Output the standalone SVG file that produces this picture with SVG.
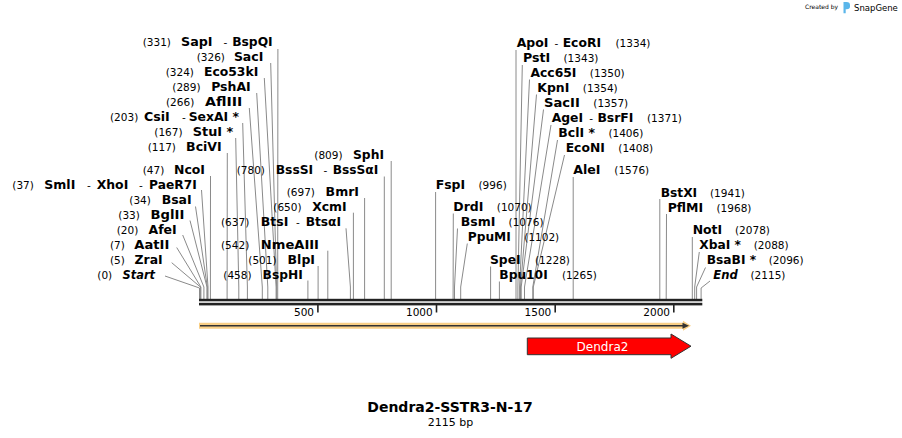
<svg xmlns="http://www.w3.org/2000/svg" width="902" height="438" viewBox="0 0 902 438">
<style>
text{font-family:"DejaVu Sans",Verdana,sans-serif;fill:#000}
.p{font-size:10.5px}
.b{font-size:12px;font-weight:bold}
.i{font-style:italic}
.e{text-anchor:end}
.m{text-anchor:middle}
.c polyline{fill:none;stroke:#8a8a8a;stroke-width:1}
.tk{stroke:#222;stroke-width:1.6}
</style>
<rect width="902" height="438" fill="#fff"/>

<g id="watermark">
<text x="805" y="8.5" font-size="6" fill="#b4b4b4">Created by</text>
<path d="M843.5,2 h3 q3.5,0 3.5,3.2 v1.3 q0,2.8 -3.3,2.8 h-1 v4 h-2.2 z" fill="#5ab6ea"/>
<text x="854" y="10.5" font-size="8.5" fill="#a8a8a8">SnapGene</text>
</g>

<g id="connectors" class="c">
<polyline points="277.9,49 277.7,299"/>
<polyline points="270.7,63 276.6,287 276.6,299"/>
<polyline points="264.3,78 276.1,287 276.1,299"/>
<polyline points="256.7,93 267.8,287 267.8,299"/>
<polyline points="249.3,108 262.3,287 262.3,299"/>
<polyline points="242.7,123 247.4,287 247.4,299"/>
<polyline points="235.7,138 238.8,287 238.8,299"/>
<polyline points="227.3,153 227.1,299"/>
<polyline points="210.5,176 210.4,299"/>
<polyline points="201.5,190 208,287 208,299"/>
<polyline points="195.5,206.5 207.3,287 207.3,299"/>
<polyline points="190,220.5 207,287 207,299"/>
<polyline points="182.7,235 203.9,287 203.9,299"/>
<polyline points="176.7,247.5 200.9,287 200.9,299"/>
<polyline points="171.7,262.7 200.4,287 200.4,299"/>
<polyline points="165,276 199.5,288 199.5,299"/>
<polyline points="391.2,161 391.2,299"/>
<polyline points="384.3,176.5 384.3,299"/>
<polyline points="364.6,198 364.6,299"/>
<polyline points="353.4,212.7 353.4,299"/>
<polyline points="346,228.3 350.4,287 350.4,299"/>
<polyline points="327.8,250.7 327.8,299"/>
<polyline points="318.1,266 318.1,299"/>
<polyline points="307.9,280.5 307.9,299"/>
<polyline points="516,50 516,299"/>
<polyline points="522.3,65 517.9,287 517.9,299"/>
<polyline points="529.5,79.5 519.6,287 519.6,299"/>
<polyline points="536.5,94.5 520.5,287 520.5,299"/>
<polyline points="543.5,109.5 521.2,287 521.2,299"/>
<polyline points="551,125 524.5,287 524.5,299"/>
<polyline points="557.5,140 532.8,287 532.8,299"/>
<polyline points="564.5,155 533.3,287 533.3,299"/>
<polyline points="573.2,177 573.2,299"/>
<polyline points="435.6,192 435.6,299"/>
<polyline points="453.3,213.5 453.1,299"/>
<polyline points="457.5,228.5 454.5,287 454.5,299"/>
<polyline points="467.3,243.5 460.7,287 460.7,299"/>
<polyline points="490.6,266.5 490.6,299"/>
<polyline points="499.4,281.5 499.4,299"/>
<polyline points="659.8,199 659.8,299"/>
<polyline points="666.5,214 666.2,299"/>
<polyline points="692.3,237 692.3,299"/>
<polyline points="699.3,252 694.7,287 694.7,299"/>
<polyline points="705.5,267.5 696.6,287 696.6,299"/>
<polyline points="710,281 701.1,288 701.1,299"/>
</g>

<g id="sequence">
<rect x="199" y="298.8" width="503.3" height="2.5" fill="#222"/>
<rect x="199" y="302.8" width="503.3" height="2.6" fill="#222"/>
<line class="tk" x1="317.9" y1="305" x2="317.9" y2="312.5"/>
<line class="tk" x1="436.5" y1="305" x2="436.5" y2="312.5"/>
<line class="tk" x1="555.2" y1="305" x2="555.2" y2="312.5"/>
<line class="tk" x1="673.8" y1="305" x2="673.8" y2="312.5"/>
<text class="p e" x="314" y="316">500</text>
<text class="p e" x="432.7" y="316">1000</text>
<text class="p e" x="551.3" y="316">1500</text>
<text class="p e" x="670" y="316">2000</text>
</g>

<g id="feature-full">
<path d="M199,322.7 H683 V320.7 L691,325.7 L683,330.7 V328.7 H199 Z" fill="#f9cf86"/>
<path d="M200,325.7 H684" stroke="#333" stroke-width="1.4" fill="none"/>
<path d="M682.5,322.7 L689,325.7 L682.5,328.7 Z" fill="#333"/>
</g>

<g id="feature-Dendra2">
<path d="M527.3,338 H671 V334 L691,346.2 L671,358.3 V354.7 H527.3 Z" fill="#ff0000" stroke="#333" stroke-width="1"/>
<text x="602.5" y="350.5" font-size="12" class="m" style="fill:#fff">Dendra2</text>
</g>

<g id="title">
<text x="450" y="412" class="m" font-size="14" font-weight="bold">Dendra2-SSTR3-N-17</text>
<text x="450.5" y="426" class="m" font-size="11">2115 bp</text>
</g>

<g id="site-SapI"><text class="p" x="142.7" y="46">(331)</text><text class="b" x="181" y="46" textLength="31.5" lengthAdjust="spacingAndGlyphs">SapI</text><text class="p m" x="225.3" y="46">-</text><text class="b e" x="272.7" y="46" textLength="40.5" lengthAdjust="spacingAndGlyphs">BspQI</text></g>
<g id="site-SacI"><text class="p" x="196.7" y="61">(326)</text><text class="b e" x="263.3" y="61" textLength="29.4" lengthAdjust="spacingAndGlyphs">SacI</text></g>
<g id="site-Eco53kI"><text class="p" x="165.7" y="76">(324)</text><text class="b e" x="258.3" y="76" textLength="54.3" lengthAdjust="spacingAndGlyphs">Eco53kI</text></g>
<g id="site-PshAI"><text class="p" x="172.3" y="91">(289)</text><text class="b e" x="250.7" y="91" textLength="39.5" lengthAdjust="spacingAndGlyphs">PshAI</text></g>
<g id="site-AflIII"><text class="p" x="166" y="106">(266)</text><text class="b e" x="242.3" y="106" textLength="37.3" lengthAdjust="spacingAndGlyphs">AflIII</text></g>
<g id="site-CsiI"><text class="p" x="110" y="121">(203)</text><text class="b" x="144" y="121" textLength="25.8" lengthAdjust="spacingAndGlyphs">CsiI</text><text class="p m" x="184" y="121">-</text><text class="b e" x="239" y="121" textLength="50.3" lengthAdjust="spacingAndGlyphs">SexAI *</text></g>
<g id="site-StuI"><text class="p" x="154.3" y="136">(167)</text><text class="b e" x="233.3" y="136" textLength="40.5" lengthAdjust="spacingAndGlyphs">StuI *</text></g>
<g id="site-BciVI"><text class="p" x="147.7" y="151">(117)</text><text class="b e" x="221.7" y="151" textLength="35.6" lengthAdjust="spacingAndGlyphs">BciVI</text></g>
<g id="site-NcoI"><text class="p" x="142.7" y="174">(47)</text><text class="b e" x="205" y="174" textLength="31" lengthAdjust="spacingAndGlyphs">NcoI</text></g>
<g id="site-SmlI"><text class="p" x="12.3" y="189">(37)</text><text class="b" x="44.3" y="189" textLength="31" lengthAdjust="spacingAndGlyphs">SmlI</text><text class="p m" x="89" y="189">-</text><text class="b" x="96.7" y="189" textLength="31.6" lengthAdjust="spacingAndGlyphs">XhoI</text><text class="p m" x="141" y="189">-</text><text class="b e" x="196.7" y="189" textLength="47.6" lengthAdjust="spacingAndGlyphs">PaeR7I</text></g>
<g id="site-BsaI"><text class="p" x="129.3" y="204">(34)</text><text class="b e" x="191.7" y="204" textLength="30" lengthAdjust="spacingAndGlyphs">BsaI</text></g>
<g id="site-BglII"><text class="p" x="118.3" y="219">(33)</text><text class="b e" x="184.3" y="219" textLength="33.8" lengthAdjust="spacingAndGlyphs">BglII</text></g>
<g id="site-AfeI"><text class="p" x="116.7" y="234">(20)</text><text class="b e" x="176.7" y="234" textLength="28.2" lengthAdjust="spacingAndGlyphs">AfeI</text></g>
<g id="site-AatII"><text class="p" x="110" y="249">(7)</text><text class="b e" x="169.3" y="249" textLength="35" lengthAdjust="spacingAndGlyphs">AatII</text></g>
<g id="site-ZraI"><text class="p" x="110" y="264">(5)</text><text class="b e" x="162.7" y="264" textLength="28.1" lengthAdjust="spacingAndGlyphs">ZraI</text></g>
<g id="site-Start"><text class="p" x="97.3" y="279">(0)</text><text class="b i e" x="155" y="279" textLength="32.4" lengthAdjust="spacingAndGlyphs">Start</text></g>

<g id="site-SphI"><text class="p" x="314.3" y="159">(809)</text><text class="b e" x="384" y="159" textLength="31" lengthAdjust="spacingAndGlyphs">SphI</text></g>
<g id="site-BssSI"><text class="p" x="236.7" y="174">(780)</text><text class="b" x="275.7" y="174" textLength="37.5" lengthAdjust="spacingAndGlyphs">BssSI</text><text class="p m" x="325.5" y="174">-</text><text class="b e" x="378.3" y="174" textLength="45.6" lengthAdjust="spacingAndGlyphs">BssSαI</text></g>
<g id="site-BmrI"><text class="p" x="286.7" y="195.5">(697)</text><text class="b e" x="359" y="195.5" textLength="33.4" lengthAdjust="spacingAndGlyphs">BmrI</text></g>
<g id="site-XcmI"><text class="p" x="273.3" y="210.5">(650)</text><text class="b e" x="346.7" y="210.5" textLength="34.5" lengthAdjust="spacingAndGlyphs">XcmI</text></g>
<g id="site-BtsI"><text class="p" x="221" y="225.5">(637)</text><text class="b" x="260.7" y="225.5" textLength="27.6" lengthAdjust="spacingAndGlyphs">BtsI</text><text class="p m" x="298" y="225.5">-</text><text class="b e" x="341" y="225.5" textLength="35.3" lengthAdjust="spacingAndGlyphs">BtsαI</text></g>
<g id="site-NmeAIII"><text class="p" x="221" y="249">(542)</text><text class="b e" x="319" y="249" textLength="58.2" lengthAdjust="spacingAndGlyphs">NmeAIII</text></g>
<g id="site-BlpI"><text class="p" x="248.3" y="264">(501)</text><text class="b e" x="315" y="264" textLength="27.4" lengthAdjust="spacingAndGlyphs">BlpI</text></g>
<g id="site-BspHI"><text class="p" x="223.3" y="279">(458)</text><text class="b e" x="302.7" y="279" textLength="40.1" lengthAdjust="spacingAndGlyphs">BspHI</text></g>

<g id="site-ApoI"><text class="b" x="516.7" y="46.5" textLength="31.7" lengthAdjust="spacingAndGlyphs">ApoI</text><text class="p m" x="556.5" y="46.5">-</text><text class="b" x="562.7" y="46.5" textLength="38.3" lengthAdjust="spacingAndGlyphs">EcoRI</text><text class="p" x="615.5" y="46.5">(1334)</text></g>
<g id="site-PstI"><text class="b" x="523" y="61.5" textLength="27.2" lengthAdjust="spacingAndGlyphs">PstI</text><text class="p" x="563.5" y="61.5">(1343)</text></g>
<g id="site-Acc65I"><text class="b" x="530.5" y="76.5" textLength="45.9" lengthAdjust="spacingAndGlyphs">Acc65I</text><text class="p" x="589.8" y="76.5">(1350)</text></g>
<g id="site-KpnI"><text class="b" x="537.3" y="91.5" textLength="32" lengthAdjust="spacingAndGlyphs">KpnI</text><text class="p" x="582.8" y="91.5">(1354)</text></g>
<g id="site-SacII"><text class="b" x="544" y="106.5" textLength="35.8" lengthAdjust="spacingAndGlyphs">SacII</text><text class="p" x="593.3" y="106.5">(1357)</text></g>
<g id="site-AgeI"><text class="b" x="551.7" y="121.5" textLength="31.4" lengthAdjust="spacingAndGlyphs">AgeI</text><text class="p m" x="591.2" y="121.5">-</text><text class="b" x="597.4" y="121.5" textLength="36" lengthAdjust="spacingAndGlyphs">BsrFI</text><text class="p" x="647" y="121.5">(1371)</text></g>
<g id="site-BclI"><text class="b" x="558.3" y="136.5" textLength="36.6" lengthAdjust="spacingAndGlyphs">BclI *</text><text class="p" x="608.4" y="136.5">(1406)</text></g>
<g id="site-EcoNI"><text class="b" x="565.7" y="151.5" textLength="39.1" lengthAdjust="spacingAndGlyphs">EcoNI</text><text class="p" x="618.3" y="151.5">(1408)</text></g>
<g id="site-AleI"><text class="b" x="573.3" y="174.3" textLength="27.2" lengthAdjust="spacingAndGlyphs">AleI</text><text class="p" x="614.3" y="174.3">(1576)</text></g>

<g id="site-FspI"><text class="b" x="435.7" y="189" textLength="29.5" lengthAdjust="spacingAndGlyphs">FspI</text><text class="p" x="478.5" y="189">(996)</text></g>
<g id="site-DrdI"><text class="b" x="453.3" y="211" textLength="30.1" lengthAdjust="spacingAndGlyphs">DrdI</text><text class="p" x="496.8" y="211">(1070)</text></g>
<g id="site-BsmI"><text class="b" x="460.7" y="226" textLength="34.6" lengthAdjust="spacingAndGlyphs">BsmI</text><text class="p" x="508.6" y="226">(1076)</text></g>
<g id="site-PpuMI"><text class="b" x="467.7" y="241" textLength="43.1" lengthAdjust="spacingAndGlyphs">PpuMI</text><text class="p" x="524.3" y="241">(1102)</text></g>
<g id="site-SpeI"><text class="b" x="490" y="264.3" textLength="30.6" lengthAdjust="spacingAndGlyphs">SpeI</text><text class="p" x="535" y="264.3">(1228)</text></g>
<g id="site-Bpu10I"><text class="b" x="499.3" y="279.3" textLength="48.4" lengthAdjust="spacingAndGlyphs">Bpu10I</text><text class="p" x="562" y="279.3">(1265)</text></g>

<g id="site-BstXI"><text class="b" x="660.7" y="196.7" textLength="36.5" lengthAdjust="spacingAndGlyphs">BstXI</text><text class="p" x="710" y="196.7">(1941)</text></g>
<g id="site-PflMI"><text class="b" x="667.7" y="211.7" textLength="35.5" lengthAdjust="spacingAndGlyphs">PflMI</text><text class="p" x="716.5" y="211.7">(1968)</text></g>
<g id="site-NotI"><text class="b" x="692.7" y="234.3" textLength="29.5" lengthAdjust="spacingAndGlyphs">NotI</text><text class="p" x="735" y="234.3">(2078)</text></g>
<g id="site-XbaI"><text class="b" x="699.3" y="249.3" textLength="41.7" lengthAdjust="spacingAndGlyphs">XbaI *</text><text class="p" x="753.7" y="249.3">(2088)</text></g>
<g id="site-BsaBI"><text class="b" x="706.7" y="264.3" textLength="49.4" lengthAdjust="spacingAndGlyphs">BsaBI *</text><text class="p" x="768.7" y="264.3">(2096)</text></g>
<g id="site-End"><text class="b i" x="713.3" y="279" textLength="24.5" lengthAdjust="spacingAndGlyphs">End</text><text class="p" x="750.5" y="279">(2115)</text></g>
</svg>
